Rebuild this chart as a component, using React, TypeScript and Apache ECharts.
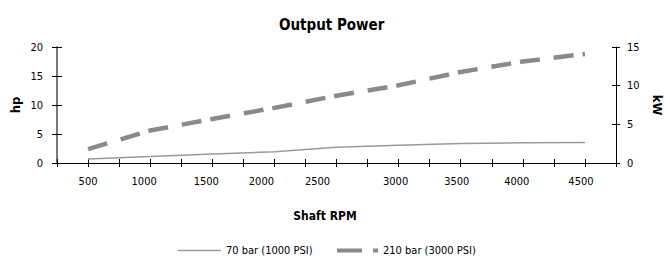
import React, { useEffect, useRef } from "react";
import * as echarts from "echarts";

const rpm = [500, 1000, 1500, 2000, 2500, 3000, 3500, 4000, 4500];
const hp70bar = [0.7, 1.1, 1.55, 1.95, 2.7, 3.05, 3.35, 3.5, 3.55];
const hp210bar = [2.4, 5.6, 7.6, 9.5, 11.6, 13.4, 15.7, 17.5, 18.8];
const seriesNames = ["70 bar (1000 PSI)", "210 bar (3000 PSI)"];
const hpTicks = { min: 0, max: 20, interval: 5 };
const kwTicks = { min: 0, max: 15, interval: 5 };
const rpmTicks = { min: 250, max: 4750, interval: 250 };

const FONT = "'Liberation Sans Narrow', 'Arial Narrow', 'DejaVu Sans Condensed', sans-serif";

// label shift (px to the left) for x labels, as in the reference
const labelShift: Record<number, number> = {
  500: 0, 1000: 6, 1500: 6, 2000: 13, 2500: 19, 3000: 3, 3500: 4, 4000: 6, 4500: 4,
};

export default function App() {
  const ref = useRef<HTMLDivElement>(null);
  useEffect(() => {
    if (!ref.current) return;
    const chart = echarts.init(ref.current, undefined, { renderer: "svg" });
    const rich: Record<string, any> = {};
    Object.keys(labelShift).forEach((k) => {
      rich["s" + k] = {
        fontFamily: FONT,
        fontSize: 11,
        color: "#000",
        padding: [0, labelShift[+k] * 2, 0, 0],
      };
    });
    const baseX = {
      type: "value",
      min: rpmTicks.min,
      max: rpmTicks.max,
      interval: rpmTicks.interval,
      position: "bottom",
      splitLine: { show: false },
    };
    const baseYL = {
      type: "value",
      min: hpTicks.min,
      max: hpTicks.max,
      interval: hpTicks.interval,
      position: "left",
      splitLine: { show: false },
    };
    const baseYR = {
      type: "value",
      min: kwTicks.min,
      max: kwTicks.max,
      interval: kwTicks.interval,
      position: "right",
      splitLine: { show: false },
    };
    const legendText = { fontFamily: FONT, fontSize: 11, color: "#000" };
    chart.setOption({
      animation: false,
      title: {
        text: "Output Power",
        left: 274,
        top: 12,
        textStyle: { fontFamily: FONT, fontSize: 15, fontWeight: "bold", color: "#000" },
      },
      grid: { left: 57, right: 49, top: 47, height: 116 },
      legend: [
        {
          left: 173,
          top: 240,
          itemWidth: 43,
          itemHeight: 1.5,
          itemGap: 5,
          textStyle: legendText,
          data: [{ name: seriesNames[0], icon: "rect" }],
          itemStyle: { color: "#9a9a9a" },
        },
        {
          left: 332,
          top: 240,
          itemWidth: 41,
          itemHeight: 4.5,
          itemGap: 5,
          textStyle: legendText,
          data: [{ name: seriesNames[1], icon: "path://M0,0h25v4h-25z M36,0h5v4h-5z" }],
          itemStyle: { color: "#8a8a8a" },
        },
      ],
      xAxis: [
        {
          ...baseX,
          axisLine: { show: true, lineStyle: { color: "#000", width: 1 } },
          axisTick: { show: true, inside: false, length: 4, lineStyle: { color: "#000" } },
          axisLabel: {
            show: true,
            margin: 13,
            fontFamily: FONT,
            fontSize: 11,
            color: "#000",
            rich,
            formatter: (v: number) => (v % 500 === 0 && rpm.includes(v) ? `{s${v}|${v}}` : ""),
          },
        },
        {
          ...baseX,
          axisLine: { show: false },
          axisTick: { show: true, inside: true, length: 4, lineStyle: { color: "#000" } },
          axisLabel: { show: false },
        },
      ],
      yAxis: [
        {
          ...baseYL,
          axisLine: { show: true, lineStyle: { color: "#777", width: 2 } },
          axisTick: { show: true, inside: false, length: 5, lineStyle: { color: "#000" } },
          axisLabel: { show: true, margin: 14, fontFamily: FONT, fontSize: 11, color: "#000" },
        },
        {
          ...baseYL,
          axisLine: { show: false },
          axisTick: { show: true, inside: true, length: 5, lineStyle: { color: "#000" } },
          axisLabel: { show: false },
        },
        {
          ...baseYR,
          axisLine: { show: true, lineStyle: { color: "#000", width: 1 } },
          axisTick: { show: true, inside: false, length: 4, lineStyle: { color: "#000" } },
          axisLabel: { show: true, margin: 11, fontFamily: FONT, fontSize: 11, color: "#000" },
        },
        {
          ...baseYR,
          axisLine: { show: false },
          axisTick: { show: true, inside: true, length: 4, lineStyle: { color: "#000" } },
          axisLabel: { show: false },
        },
      ],
      series: [
        {
          name: seriesNames[0],
          type: "line",
          xAxisIndex: 0,
          yAxisIndex: 0,
          symbol: "none",
          data: rpm.map((r, i) => [r, hp70bar[i]]),
          lineStyle: { color: "#9a9a9a", width: 1.5 },
          itemStyle: { color: "#9a9a9a" },
        },
        {
          name: seriesNames[1],
          type: "line",
          xAxisIndex: 0,
          yAxisIndex: 0,
          symbol: "none",
          data: rpm.map((r, i) => [r, hp210bar[i]]),
          lineStyle: { color: "#8a8a8a", width: 4.5, type: [20, 14, 20, 9], cap: "butt" },
          itemStyle: { color: "#8a8a8a" },
        },
      ],
      graphic: [
        {
          type: "text",
          x: 325,
          y: 216,
          style: {
            text: "Shaft RPM",
            fontFamily: FONT,
            fontSize: 12,
            fontWeight: "bold",
            fill: "#000",
            align: "center",
            verticalAlign: "middle",
          },
        },
        {
          type: "text",
          x: 15,
          y: 105,
          rotation: Math.PI / 2,
          style: {
            text: "hp",
            fontFamily: FONT,
            fontSize: 13,
            fontWeight: "bold",
            fill: "#000",
            align: "center",
            verticalAlign: "middle",
          },
        },
        {
          type: "text",
          x: 657,
          y: 105,
          rotation: -Math.PI / 2,
          style: {
            text: "kW",
            fontFamily: FONT,
            fontSize: 13,
            fontWeight: "bold",
            fill: "#000",
            align: "center",
            verticalAlign: "middle",
          },
        },
      ],
    });
    return () => chart.dispose();
  }, []);
  return (
    <div
      ref={ref}
      style={{ position: "fixed", left: 0, top: 0, width: 665, height: 256, background: "#fff" }}
    />
  );
}
